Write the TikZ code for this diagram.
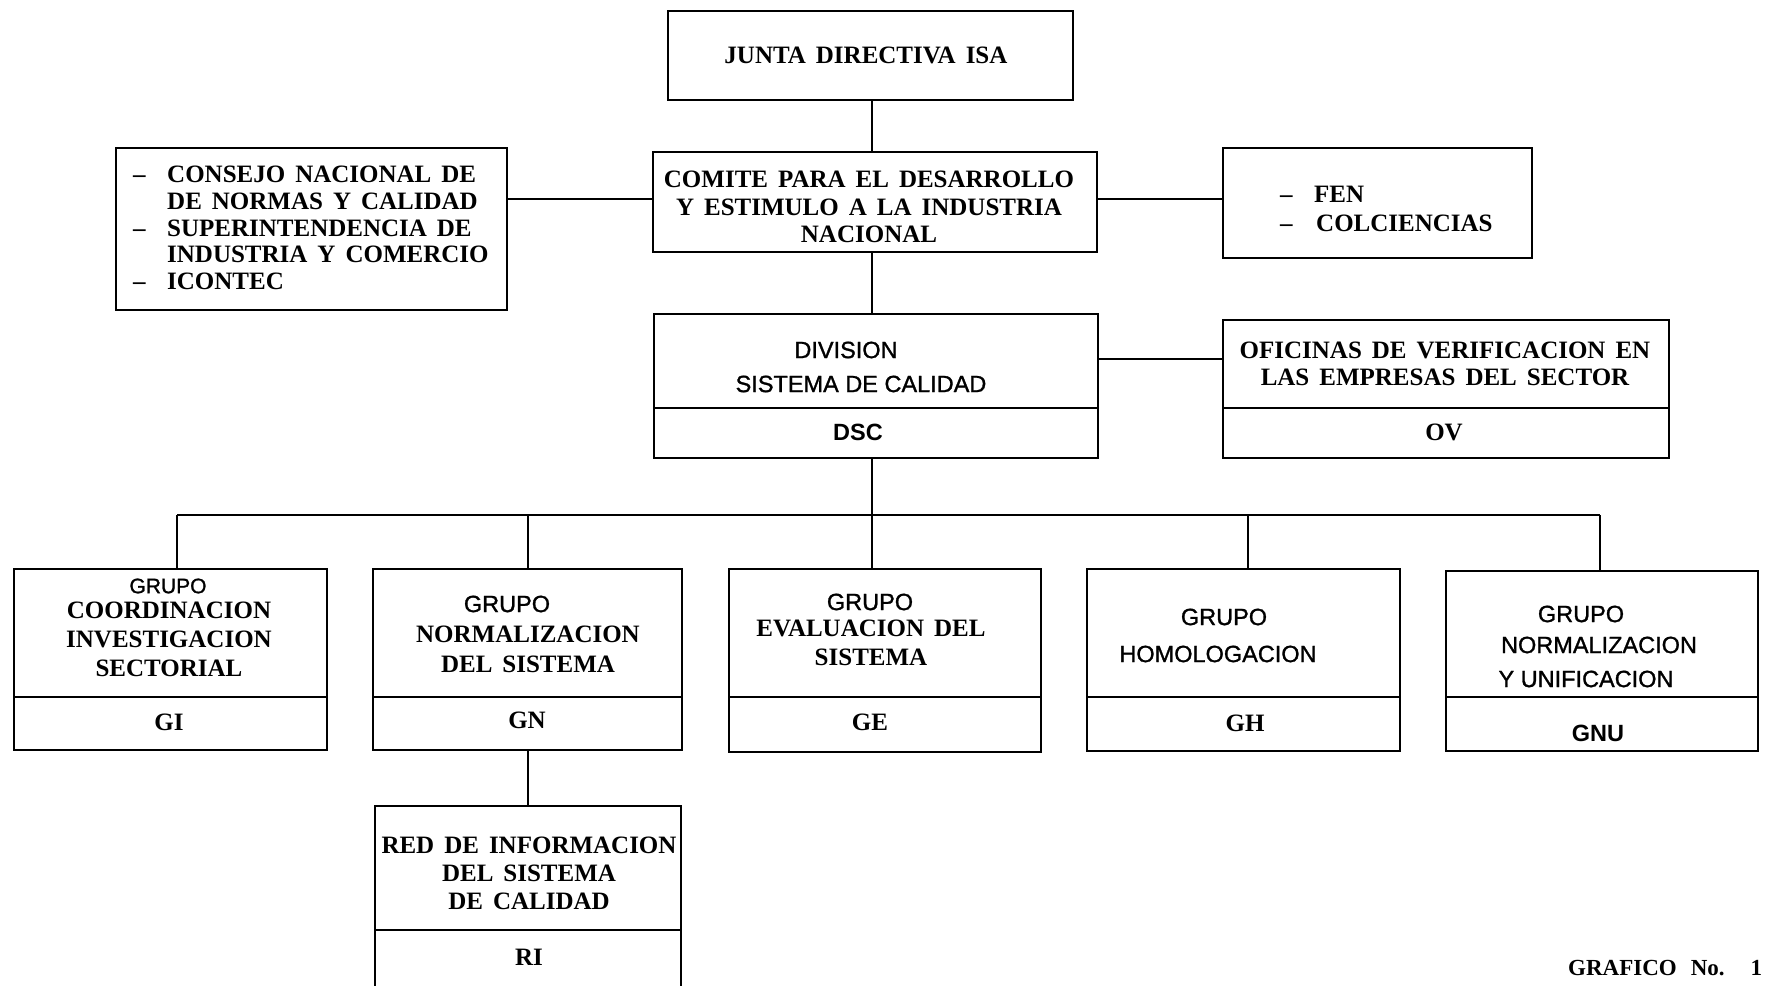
\documentclass[tikz,border=0pt]{standalone}
\usepackage{fontspec}
\setmainfont{Liberation Serif}[WordSpace=1.6]
\setsansfont{Liberation Sans}
\newfontfamily\sansmed{Liberation Sans}[FakeBold=1.2]
\begin{document}
\begin{tikzpicture}[x=1pt,y=-1pt]
\tikzset{
 box/.style={draw, line width=2.8pt, inner sep=0pt, outer sep=0pt, anchor=north west},
 conn/.style={line width=2pt},
 divl/.style={line width=2pt},
 st/.style={inner sep=0pt, font=\fontsize{25}{27.5}\selectfont\bfseries, align=center},
 ss/.style={inner sep=0pt, font=\fontsize{23.5}{26}\selectfont\sansmed, align=center},
}
\useasboundingbox[fill=white] (0,0) rectangle (1766,985);
% boxes
\node[box, minimum width=405pt, minimum height=89pt] (junta) at (668,11) {};
\node[box, minimum width=444pt, minimum height=100pt] (comite) at (653,152) {};
\node[box, minimum width=391pt, minimum height=162pt] (cons) at (116,148) {};
\node[box, minimum width=309pt, minimum height=110pt] (fen) at (1223,148) {};
\node[box, minimum width=444pt, minimum height=144pt] (dsc) at (654,314) {};
\node[box, minimum width=446pt, minimum height=138pt] (ov) at (1223,320) {};
\node[box, minimum width=313pt, minimum height=181pt] (gi) at (14,569) {};
\node[box, minimum width=309pt, minimum height=181pt] (gn) at (373,569) {};
\node[box, minimum width=312pt, minimum height=183pt] (ge) at (729,569) {};
\node[box, minimum width=313pt, minimum height=182pt] (gh) at (1087,569) {};
\node[box, minimum width=312pt, minimum height=180pt] (gnu) at (1446,571) {};
\node[box, minimum width=306pt, minimum height=220pt] (ri) at (375,806) {};
% dividers
\coordinate (dvA) at (0,408);
\coordinate (dvB) at (0,697);
\coordinate (dvC) at (0,930);
\draw[divl] (dsc.west |- dvA) -- (dsc.east |- dvA);
\draw[divl] (ov.west |- dvA) -- (ov.east |- dvA);
\draw[divl] (gi.west |- dvB) -- (gi.east |- dvB);
\draw[divl] (gn.west |- dvB) -- (gn.east |- dvB);
\draw[divl] (ge.west |- dvB) -- (ge.east |- dvB);
\draw[divl] (gh.west |- dvB) -- (gh.east |- dvB);
\draw[divl] (gnu.west |- dvB) -- (gnu.east |- dvB);
\draw[divl] (ri.west |- dvC) -- (ri.east |- dvC);
% connectors
\coordinate (spine) at (872,0);
\coordinate (busL) at (177,515);
\coordinate (busR) at (1600,515);
\coordinate (dgn) at (528,515);
\coordinate (dgh) at (1248,515);
\coordinate (sideA) at (0,199);
\coordinate (sideB) at (0,359);
\draw[conn] (spine |- junta.south) -- (spine |- comite.north);
\draw[conn] (spine |- comite.south) -- (spine |- dsc.north);
\draw[conn] (spine |- dsc.south) -- (spine |- ge.north);
\draw[conn] (busL) -- (busR);
\draw[conn] (busL) -- (busL |- gi.north);
\draw[conn] (dgn) -- (dgn |- gn.north);
\draw[conn] (dgh) -- (dgh |- gh.north);
\draw[conn] (busR) -- (busR |- gnu.north);
\draw[conn] (dgn |- gn.south) -- (dgn |- ri.north);
\draw[conn] (cons.east |- sideA) -- (comite.west |- sideA);
\draw[conn] (comite.east |- sideA) -- (fen.west |- sideA);
\draw[conn] (dsc.east |- sideB) -- (ov.west |- sideB);
% texts
\node[st] (tjunta) at (866,55) {JUNTA DIRECTIVA ISA};
\node[st] (tcomite) at (869,207) {COMITE PARA EL DESARROLLO\\Y ESTIMULO A LA INDUSTRIA\\NACIONAL};
\node[st, align=left, anchor=west, font=\fontsize{25}{26.8}\selectfont\bfseries] (tcons) at (133,228)
 {\makebox[34pt][l]{--}CONSEJO NACIONAL DE\\\hspace*{34pt}DE NORMAS Y CALIDAD\\\makebox[34pt][l]{--}SUPERINTENDENCIA DE\\\hspace*{34pt}INDUSTRIA Y COMERCIO\\\makebox[34pt][l]{--}ICONTEC};
\node[st, align=left, anchor=west, font=\fontsize{25}{29}\selectfont\bfseries] (tfen) at (1280,209)
 {\makebox[34pt][l]{--}FEN\\\makebox[36pt][l]{--}COLCIENCIAS};
\node[ss] (tdiv1) at (846,350) {DIVISION};
\node[ss] (tdiv2) at (861,384) {SISTEMA DE CALIDAD};
\node[ss, font=\fontsize{23.5}{26}\selectfont\sffamily\bfseries] (tdsc) at (858,432) {DSC};
\node[st] (tov1) at (1445,364) {OFICINAS DE VERIFICACION EN\\LAS EMPRESAS DEL SECTOR};
\node[st] (tov2) at (1444,432) {OV};
% GI
\node[ss, font=\fontsize{21}{24}\selectfont\sansmed] (tgi0) at (168,586) {GRUPO};
\node[st, font=\fontsize{25}{29}\selectfont\bfseries] (tgi1) at (169,639) {COORDINACION\\INVESTIGACION\\SECTORIAL};
\node[st] (tgi2) at (169,722) {GI};
% GN
\node[ss] (tgn0) at (507,604) {GRUPO};
\node[st, font=\fontsize{25}{30}\selectfont\bfseries] (tgn1) at (528,649) {NORMALIZACION\\DEL SISTEMA};
\node[st] (tgn2) at (527,720) {GN};
% GE
\node[ss] (tge0) at (870,602) {GRUPO};
\node[st, font=\fontsize{25}{29}\selectfont\bfseries] (tge1) at (871,643) {EVALUACION DEL\\SISTEMA};
\node[st] (tge2) at (870,722) {GE};
% GH
\node[ss] (tgh0) at (1224,617) {GRUPO};
\node[ss] (tgh1) at (1218,654) {HOMOLOGACION};
\node[st] (tgh2) at (1245,723) {GH};
% GNU
\node[ss] (tgnu0) at (1581,614) {GRUPO};
\node[ss] (tgnu1) at (1599,645) {NORMALIZACION};
\node[ss] (tgnu2) at (1586,679) {Y UNIFICACION};
\node[ss, font=\fontsize{23.5}{26}\selectfont\sffamily\bfseries] (tgnu3) at (1598,733) {GNU};
% RI
\node[st, font=\fontsize{25}{28}\selectfont\bfseries] (tri1) at (529,873) {RED DE INFORMACION\\DEL SISTEMA\\DE CALIDAD};
\node[st] (tri2) at (529,957) {RI};
% caption
\node[st, anchor=west, font=\fontsize{23}{26}\selectfont\bfseries] (tgraf) at (1568,968) {GRAFICO\hspace{14pt}No.\hspace{26pt}1};
\end{tikzpicture}
\end{document}
